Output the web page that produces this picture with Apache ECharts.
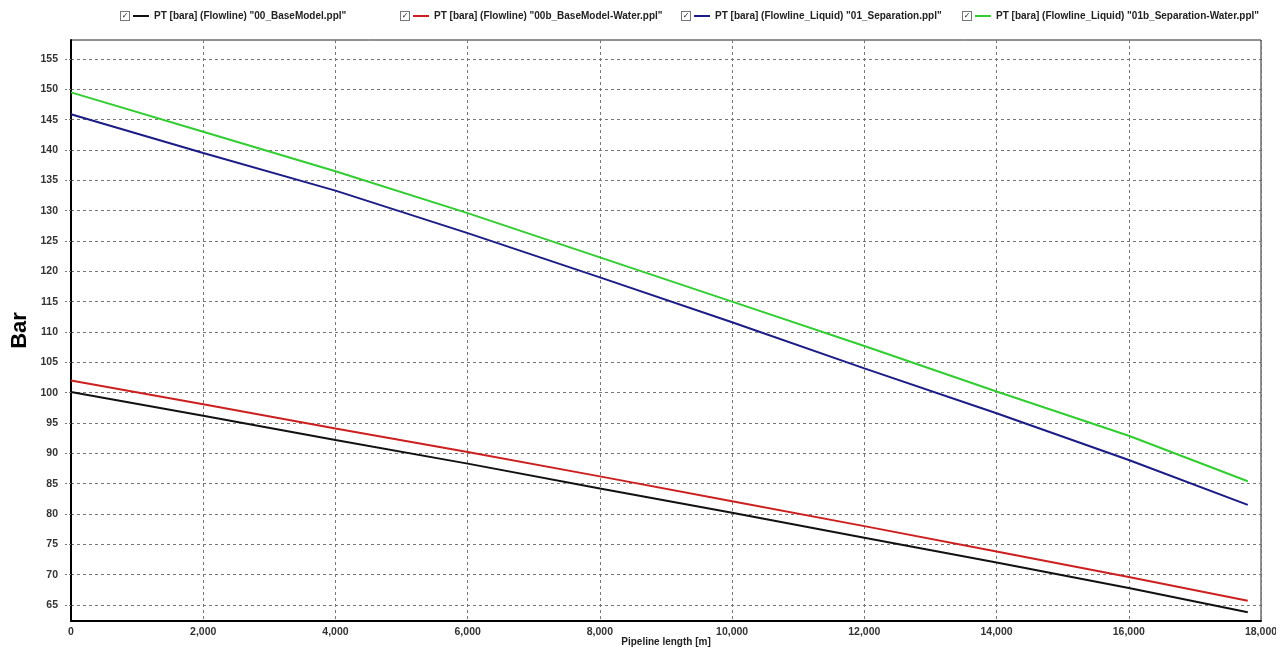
<!DOCTYPE html>
<html>
<head>
<meta charset="utf-8">
<script src="https://cdn.jsdelivr.net/npm/echarts@6/dist/echarts.min.js"></script>
<style>
  html, body { margin: 0; padding: 0; background: #fff; }
  #chart { width: 1276px; height: 648px; }
</style>
</head>
<body>
<div id="chart"></div>
<script>
// Pipeline length positions [m]
const lengths = [0, 2000, 4000, 6000, 8000, 10000, 12000, 14000, 16000, 17800];

// Pressure profiles [bara]
const baseModel       = [100.1, 96.2, 92.2, 88.3, 84.2, 80.2, 76.1, 72.0, 67.8, 63.8];
const baseModelWater  = [102.0, 98.1, 94.1, 90.2, 86.2, 82.1, 78.0, 73.8, 69.6, 65.7];
const separation      = [145.9, 139.5, 133.3, 126.3, 119.0, 111.6, 104.0, 96.6, 88.9, 81.5];
const separationWater = [149.5, 143.0, 136.5, 129.6, 122.3, 115.0, 107.7, 100.2, 92.9, 85.4];

const seriesNames = [
  'PT [bara] (Flowline) "00_BaseModel.ppl"',
  'PT [bara] (Flowline) "00b_BaseModel-Water.ppl"',
  'PT [bara] (Flowline_Liquid) "01_Separation.ppl"',
  'PT [bara] (Flowline_Liquid) "01b_Separation-Water.ppl"'
];
const seriesColors = ['#111111', '#cc2020', '#1c1c85', '#33cc33'];
const seriesValues = [baseModel, baseModelWater, separation, separationWater];

// y tick labels
const yTicks = [65, 70, 75, 80, 85, 90, 95, 100, 105, 110, 115, 120, 125, 130, 135, 140, 145, 150, 155];

const FONT = '"Liberation Sans", Arial, sans-serif';

const chart = echarts.init(document.getElementById('chart'), null, { renderer: 'canvas' });

const legendLefts = [115, 395, 676, 957];
const legends = seriesNames.map((name, i) => ({
  data: [name],
  left: legendLefts[i],
  top: 11,
  padding: 0,
  itemWidth: 0,
  itemHeight: 0,
  selectedMode: false,
  formatter: n => '{cb|✓}{sp|}{ln|}{sp2|}' + n,
  textStyle: {
    fontFamily: FONT,
    fontWeight: 'bold',
    fontSize: 10,
    color: '#222',
    rich: {
      cb: {
        width: 8, height: 8, lineHeight: 9,
        borderColor: '#777', borderWidth: 1,
        backgroundColor: '#fff',
        align: 'center',
        fontSize: 8, fontWeight: 'bold',
        fontFamily: 'DejaVu Sans',
        color: '#222'
      },
      sp: { width: 4 },
      sp2: { width: 5 },
      ln: { width: 16, height: 2, backgroundColor: seriesColors[i] }
    }
  }
}));

const option = {
  backgroundColor: '#ffffff',
  animation: false,
  legend: legends,
  grid: {
    left: 71, right: 15, top: 40, bottom: 27,
    outerBoundsMode: 'none',
    containLabel: false,
    show: true,
    borderColor: '#222',
    borderWidth: 1
  },
  xAxis: {
    type: 'value',
    min: 0,
    max: 18000,
    interval: 2000,
    name: 'Pipeline length [m]',
    nameLocation: 'middle',
    nameGap: 16,
    nameMoveOverlap: false,
    nameTextStyle: { fontFamily: FONT, fontWeight: 'bold', fontSize: 10, color: '#222' },
    axisLine: { show: true, onZero: false, lineStyle: { color: '#000', width: 2 } },
    axisTick: { show: false },
    axisLabel: {
      fontFamily: FONT, fontWeight: 'bold', fontSize: 10.5, color: '#333', margin: 6,
      formatter: v => v.toLocaleString('en-US')
    },
    splitLine: { show: true, lineStyle: { color: '#777', width: 1, type: [3, 3] } }
  },
  yAxis: {
    type: 'value',
    min: 62.36,
    max: 158.13,
    name: 'Bar',
    nameLocation: 'middle',
    nameGap: 40,
    nameRotate: 90,
    nameMoveOverlap: false,
    nameTextStyle: { fontFamily: FONT, fontWeight: 'bold', fontSize: 22, color: '#000' },
    axisLine: { show: true, onZero: false, lineStyle: { color: '#000', width: 2 } },
    axisTick: {
      show: true, length: 6, customValues: yTicks,
      lineStyle: { color: '#777', type: [2, 2] }
    },
    axisLabel: {
      fontFamily: FONT, fontWeight: 'bold', fontSize: 10.5, color: '#333', margin: 13,
      customValues: yTicks
    },
    splitLine: { show: true, lineStyle: { color: '#777', width: 1, type: [3, 3] } }
  },
  series: seriesNames.map((name, i) => ({
    name: name,
    type: 'line',
    symbol: 'none',
    smooth: false,
    data: lengths.map((x, k) => [x, seriesValues[i][k]]),
    lineStyle: { color: seriesColors[i], width: 2 },
    itemStyle: { color: seriesColors[i] },
    z: 3 + i
  }))
};

chart.setOption(option);
</script>
</body>
</html>
